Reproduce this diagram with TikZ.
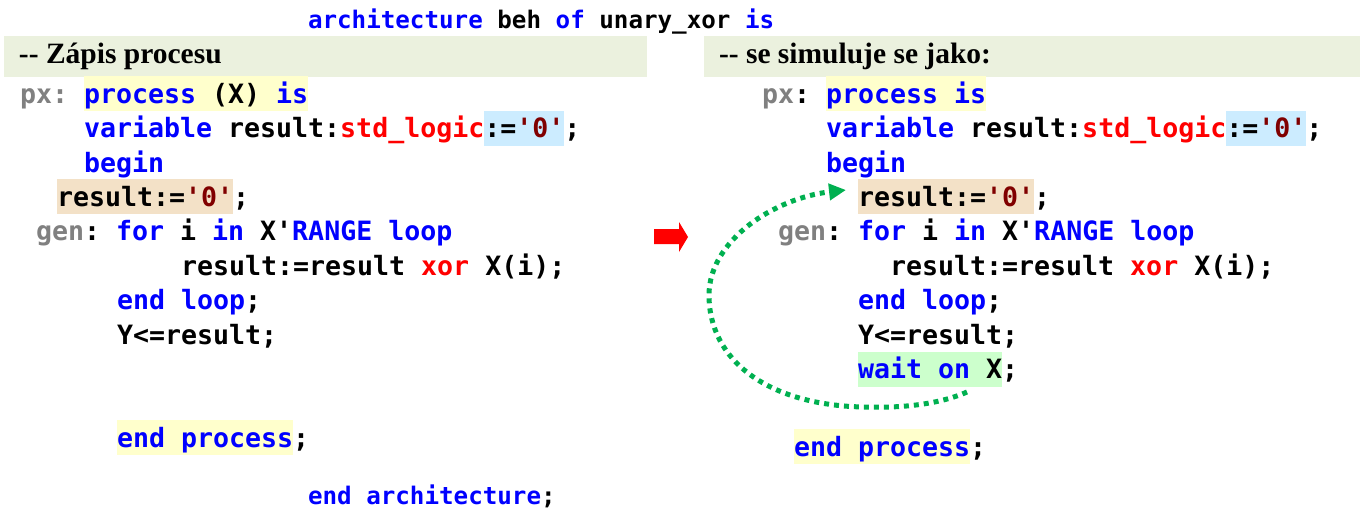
\documentclass[tikz,border=0pt]{standalone}
\usepackage{fontspec}
\usetikzlibrary{arrows.meta}
\newfontfamily\codefont[Ligatures=TeXOff]{DejaVu Sans Mono}
\newfontfamily\headfont[Ligatures=TeXOff]{Liberation Serif}
\frenchspacing
\definecolor{kw}{HTML}{0000FF}
\definecolor{rd}{HTML}{FF0000}
\definecolor{lit}{HTML}{800000}
\definecolor{lbl}{HTML}{808080}
\definecolor{band}{HTML}{EBF1DE}
\definecolor{hyel}{HTML}{FFFFCC}
\definecolor{hblu}{HTML}{CCECFF}
\definecolor{htan}{HTML}{F3E1C7}
\definecolor{hgrn}{HTML}{CCFFCC}
\definecolor{loopgreen}{HTML}{00B050}
\newcommand\hlb[2]{{\setlength\fboxsep{0pt}\colorbox{#1}{\rule[-8pt]{0pt}{35pt}#2}}}
\newcommand\K[1]{\textcolor{kw}{#1}}
\tikzset{
  code/.style={anchor=base west, inner sep=0pt, outer sep=0pt,
    font=\codefont\bfseries\fontsize{26.6}{30}\selectfont\frenchspacing},
  archline/.style={anchor=base west, inner sep=0pt, outer sep=0pt,
    font=\codefont\bfseries\fontsize{24.2}{28}\selectfont\frenchspacing},
  headtext/.style={anchor=base west, inner sep=0pt, outer sep=0pt,
    font=\headfont\bfseries\fontsize{29.5}{32}\selectfont\frenchspacing},
  loopline/.style={draw=loopgreen, line width=5pt, dash pattern=on 5pt off 5pt,
    -{Triangle[length=17pt,width=16pt,fill=loopgreen]}},
}
\begin{document}
\begin{tikzpicture}[x=1pt,y=-1pt]
\useasboundingbox (0,0) rectangle (1363,509);
% header bands
\fill[band] (4,36) rectangle (647,77);
\fill[band] (704,36) rectangle (1360,77);
\node[headtext] (hl) at (19,63) {-- Zápis procesu};
\node[headtext] (hr) at (719,63) {-- se simuluje se jako:};
% architecture lines
\node[archline] (arch) at (308,28) {\K{architecture} beh \K{of} unary\_xor \K{is}};
\node[archline] (earch) at (308,504) {\K{end architecture};};
% left column
\node[code] (Lpx) at (20,103) {\textcolor{lbl}{px:}};
\node[code] (L1) at (84,103) {\hlb{hyel}{\K{process} (X) \K{is}}};
\node[code] (L2) at (84,137.5) {\K{variable} result:\textcolor{rd}{std\_logic}\hlb{hblu}{:=\textcolor{lit}{'0'}};};
\node[code] (L3) at (84,172) {\K{begin}};
\node[code] (L4) at (57,206) {\hlb{htan}{result:=\textcolor{lit}{'0'}};};
\node[code] (L5) at (36,240.5) {\textcolor{lbl}{gen}: \K{for} i \K{in} X'\K{RANGE} \K{loop}};
\node[code] (L6) at (181,275) {result:=result \textcolor{rd}{xor} X(i);};
\node[code] (L7) at (117,309.5) {\K{end loop};};
\node[code] (L8) at (117,344) {Y<=result;};
\node[code] (L9) at (117,447) {\hlb{hyel}{\K{end process}};};
% right column
\node[code] (Rpx) at (762,103) {\textcolor{lbl}{px}:};
\node[code] (R1) at (826,103) {\hlb{hyel}{\K{process is}}};
\node[code] (R2) at (826,137.5) {\K{variable} result:\textcolor{rd}{std\_logic}\hlb{hblu}{:=\textcolor{lit}{'0'}};};
\node[code] (R3) at (826,172) {\K{begin}};
\node[code] (R4) at (858,206) {\hlb{htan}{result:=\textcolor{lit}{'0'}};};
\node[code] (R5) at (778,240.5) {\textcolor{lbl}{gen}: \K{for} i \K{in} X'\K{RANGE} \K{loop}};
\node[code] (R6) at (890,275) {result:=result \textcolor{rd}{xor} X(i);};
\node[code] (R7) at (858,309.5) {\K{end loop};};
\node[code] (R8) at (858,344) {Y<=result;};
\node[code] (R9) at (858,378.5) {\hlb{hgrn}{\K{wait on} X};};
\node[code] (R10) at (794,456) {\hlb{hyel}{\K{end process}};};
% red arrow
\fill[rd] (654,229) -- (679,229) -- (679,222) -- (688,237) -- (679,252) -- (679,244) -- (654,244) -- cycle;
% green loop
\coordinate (loopS) at (967,392);
\coordinate (loopE) at (846,190);
\draw[loopline] (loopS) .. controls (935,406) and (895,408) .. (863,407)
  .. controls (770,405) and (709,362) .. (709,295)
  .. controls (709,240) and (775,198) .. (loopE);
\end{tikzpicture}
\end{document}
